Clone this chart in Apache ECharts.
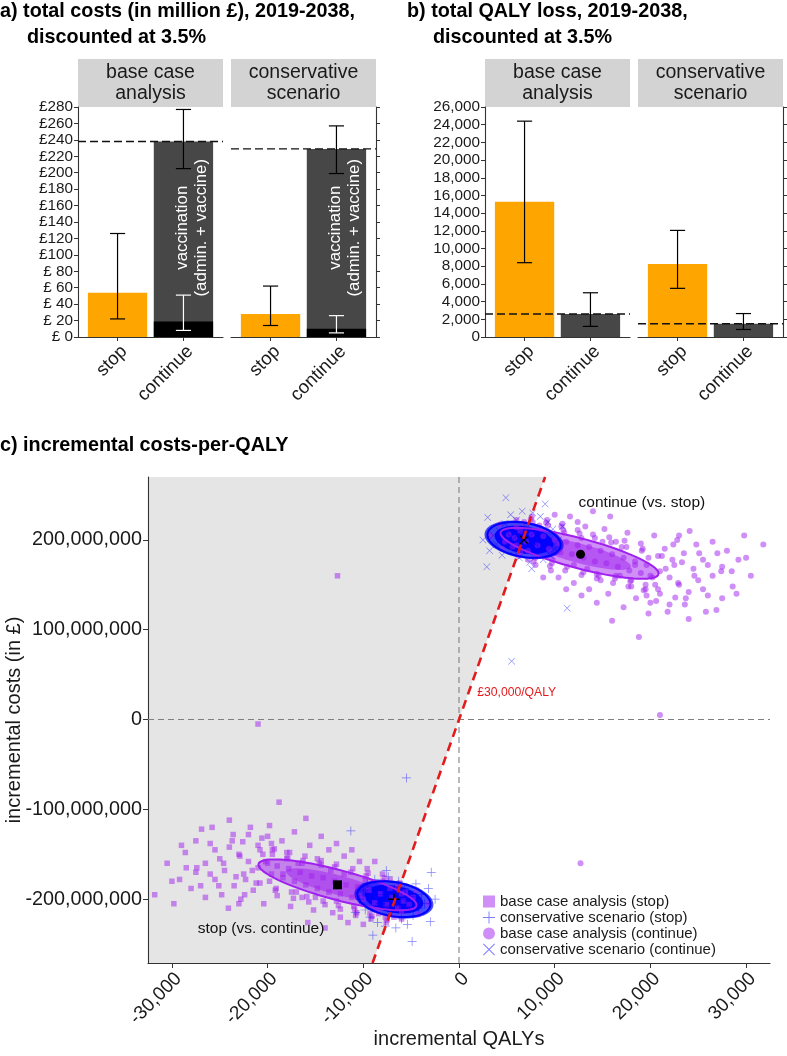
<!DOCTYPE html>
<html><head><meta charset="utf-8">
<script src="https://cdn.jsdelivr.net/npm/echarts@6/dist/echarts.min.js"></script>
<style>html,body{margin:0;padding:0;background:#fff}#c{width:787px;height:1056px}</style>
</head><body><div id="c"></div>
<script>
// ---------------- data ----------------
const categories = ['stop', 'continue'];
const facets = ['base case\nanalysis', 'conservative\nscenario'];
const costTicksMax = 280, costTickStep = 20;
const qalyTicksMax = 26000, qalyTickStep = 2000;
// panel a: total costs (million £) [facet][stop, continue]
const costMean = [[54, 238], [28, 229]];
const costLow  = [[22, 205], [14, 199]];
const costHigh = [[126, 277], [62, 257]];
// non-vaccination part of the "continue" bar
const costOther     = [19, 10];
const costOtherLow  = [8, 5];
const costOtherHigh = [51, 26];
const costRef = [238, 229];
const vaccLabel = 'vaccination\n(admin. + vaccine)';
const vaccLabelPos = [2.13, 133];
// panel b: total QALY loss
const qalyMean = [[15300, 2600], [8250, 1500]];
const qalyLow  = [[8400, 1200], [5500, 850]];
const qalyHigh = [[24400, 5000], [12050, 2650]];
const qalyRef = [2600, 1500];
// panel c: incremental QALYs vs incremental costs (£ million)
const wtpPerQaly = 30000;
const qalyRange = [-32500, 32500];
const costRangeM = [-271, 270];
const xTickVals = [-30000, -20000, -10000, 0, 10000, 20000, 30000];
const yTickVals = [-200, -100, 0, 100, 200];
const baseStop = [
[-31800,-195],[-30500,-160],[-29800,-205],[-29200,-178],[-28600,-148],[-28000,-188],[-27400,-165],[-26900,-122],[-26500,-198],[-26000,-172],
[-25500,-145],[-25100,-185],[-24600,-160],[-24100,-210],[-23700,-135],[-23300,-175],[-22900,-152],[-22400,-195],[-22000,-128],[-21600,-168],
[-21200,-182],[-20800,-145],[-20400,-205],[-20000,-160],[-19600,-138],[-19200,-190],[-18800,-92],[-18400,-172],[-18000,-148],[-17600,-208],
[-17200,-125],[-16800,-160],[-16400,-198],[-16000,-110],[-15600,-140],[-15200,-212],[-14800,-155],[-14400,-130],[-14000,-232],[-13600,-145],
[-13200,-215],[-12800,-138],[-12400,-220],[-12000,-152],[-11600,-226],[-11200,-145],[-10800,-218],[-10400,-158],[-10000,-228],[-9600,-166],
[-9200,-222],[-8800,-158],[-8400,-216],[-8000,-172],[-7600,-226],[-7200,-178],[-6800,-220],[-6400,-186],[-6000,-214],[-5600,-192],
[-5200,-206],[-4800,-198],[-24000,-112],[-27500,-135],[-21000,-5],[-12700,160],[-19800,-118],[-15800,-226],[-23000,-205],[-29000,-140],
[-20200,-158],[-19600,-172],[-19000,-163],[-18400,-176],[-17800,-166],[-17200,-180],[-16600,-170],[-16000,-184],[-15400,-174],[-14800,-188],
[-14200,-176],[-13600,-192],[-13000,-180],[-12400,-194],[-11800,-184],[-11200,-198],[-10600,-186],[-10000,-200],[-9400,-190],[-8800,-204],
[-8200,-194],[-7600,-206],[-7000,-198],[-6400,-210],[-5800,-202],[-19800,-180],[-18000,-155],[-16400,-160],[-15000,-198],[-13400,-168],
[-12000,-172],[-11000,-208],[-9800,-178],[-8600,-212],[-7200,-188],[-17000,-192],[-14400,-162],[-12800,-202],[-10400,-196],[-6000,-194],
[-22600,-136],[-22300,-178],[-21000,-140],[-20800,-182],[-20600,-132],[-19300,-144],[-19100,-188],[-19500,-150],[-19000,-196],[-17700,-148],
[-17500,-192],[-17900,-154],[-17300,-199],[-16100,-152],[-15900,-197],[-16300,-157],[-15700,-203],[-14400,-157],[-14200,-202],[-14600,-160],
[-14000,-206],[-12800,-161],[-12600,-207],[-13000,-164],[-12400,-211],[-11100,-166],[-10900,-211],[-11300,-170],[-10700,-215],[-9500,-171],
[-9300,-216],[-9700,-174],[-9100,-219],[-7800,-176],[-7700,-220],[-8000,-180],[-7500,-223],[-6200,-182],[-6000,-222],[-4500,-190],
[-4300,-217],[-3300,-205],[-21500,-190],[-22500,-172],[-23500,-185],[-24500,-168],[-25500,-178],[-26500,-160],[-27500,-170],[-22000,-158],
[-23000,-150],[-24000,-142],[-25000,-155],[-26000,-138],[-21000,-165],[-20500,-150],[-19500,-145],[-27000,-185],[-28500,-165],[-30000,-180],
[-24800,-195],[-22800,-200],[-20000,-130],[-21800,-120],[-23600,-128],[-25800,-120],[-18500,-135]
];
const baseCont = [
[31800,195],[30500,160],[29800,205],[29200,178],[28600,148],[28000,188],[27400,165],[26900,122],[26500,198],[26000,172],
[25500,145],[25100,185],[24600,160],[24100,210],[23700,135],[23300,175],[22900,152],[22400,195],[22000,128],[21600,168],
[21200,182],[20800,145],[20400,205],[20000,160],[19600,138],[19200,190],[18800,92],[18400,172],[18000,148],[17600,208],
[17200,125],[16800,160],[16400,198],[16000,110],[15600,140],[15200,212],[14800,155],[14400,130],[14000,232],[13600,145],
[13200,215],[12800,138],[12400,220],[12000,152],[11600,226],[11200,145],[10800,218],[10400,158],[10000,228],[9600,166],
[9200,222],[8800,158],[8400,216],[8000,172],[7600,226],[7200,178],[6800,220],[6400,186],[6000,214],[5600,192],
[5200,206],[4800,198],[24000,112],[27500,135],[21000,5],[12700,-160],[19800,118],[15800,226],[23000,205],[29000,140],
[20200,158],[19600,172],[19000,163],[18400,176],[17800,166],[17200,180],[16600,170],[16000,184],[15400,174],[14800,188],
[14200,176],[13600,192],[13000,180],[12400,194],[11800,184],[11200,198],[10600,186],[10000,200],[9400,190],[8800,204],
[8200,194],[7600,206],[7000,198],[6400,210],[5800,202],[19800,180],[18000,155],[16400,160],[15000,198],[13400,168],
[12000,172],[11000,208],[9800,178],[8600,212],[7200,188],[17000,192],[14400,162],[12800,202],[10400,196],[6000,194],
[22600,136],[22300,178],[21000,140],[20800,182],[20600,132],[19300,144],[19100,188],[19500,150],[19000,196],[17700,148],
[17500,192],[17900,154],[17300,199],[16100,152],[15900,197],[16300,157],[15700,203],[14400,157],[14200,202],[14600,160],
[14000,206],[12800,161],[12600,207],[13000,164],[12400,211],[11100,166],[10900,211],[11300,170],[10700,215],[9500,171],
[9300,216],[9700,174],[9100,219],[7800,176],[7700,220],[8000,180],[7500,223],[6200,182],[6000,222],[4500,190],
[4300,217],[3300,205],[21500,190],[22500,172],[23500,185],[24500,168],[25500,178],[26500,160],[27500,170],[22000,158],
[23000,150],[24000,142],[25000,155],[26000,138],[21000,165],[20500,150],[19500,145],[27000,185],[28500,165],[30000,180],
[24800,195],[22800,200],[20000,130],[21800,120],[23600,128],[25800,120],[18500,135]
];
const consStop = [
[-10400,-200],[-10000,-190],[-9800,-212],[-9600,-182],[-9300,-220],[-9000,-196],[-8800,-178],[-8500,-226],[-8200,-205],[-8000,-186],
[-7700,-230],[-7400,-175],[-7100,-214],[-6900,-192],[-6600,-232],[-6300,-180],[-6000,-222],[-5700,-188],[-5400,-228],[-5100,-197],
[-4800,-218],[-4500,-183],[-4200,-210],[-3900,-195],[-3600,-205],[-3200,-188],[-2900,-170],[-2500,-200],[-4900,-247],[-5500,-65],
[-11300,-124],[-9000,-240],[-3000,-225],[-7600,-168],[-10800,-215],[-8500,-198],[-7800,-208],[-7200,-194],[-6800,-202],[-6200,-206],
[-5600,-200],[-5000,-208],[-8000,-195],[-7000,-212],[-6000,-192]
];
const consCont = [
[10400,200],[10000,190],[9800,212],[9600,182],[9300,220],[9000,196],[8800,178],[8500,226],[8200,205],[8000,186],
[7700,230],[7400,175],[7100,214],[6900,192],[6600,232],[6300,180],[6000,222],[5700,188],[5400,228],[5100,197],
[4800,218],[4500,183],[4200,210],[3900,195],[3600,205],[3200,188],[2900,170],[2500,200],[4900,247],[5500,65],
[11300,124],[9000,240],[3000,225],[7600,168],[10800,215],[8500,198],[7800,208],[7200,194],[6800,202],[6200,206],
[5600,200],[5000,208],[8000,195],[7000,212],[6000,192]
];
// means [q, cost]
const meanBaseStop = [-12700, -184];
const meanConsStop = [-6800, -200];
const meanBaseCont = [12700, 184];
const meanConsCont = [6800, 200];
// ellipses: centre q, centre cost, major (dq, dc), minor (dq, dc)
const ellBaseStop = [-12700, -184, 8250, -23.3, -410, -16.1];
const ellBaseCont = [12600, 185, 8250, -23.3, -410, -16.1];
const ellConsStop = [-6800, -200, 3810, -7.1, -310, -18.6];
const ellConsCont = [6800, 200, 3810, -7.1, -310, -18.6];
const seriesNames = ['base case analysis (stop)', 'conservative scenario (stop)', 'base case analysis (continue)', 'conservative scenario (continue)'];

// ---------------- styling ----------------
const FONT = "'Liberation Sans', Arial, Helvetica, sans-serif";
const AX = '#333333';
const TXT = '#1a1a1a';
const ORANGE = '#FFA500', DARK = '#474747', BLACK = '#000000';
const PURPLE = '#A020F0', BLUE = '#0000FF';
const barFill = [ORANGE, DARK, BLACK];
const PLUS = 'path://M9.2,0H10.8V9.2H20V10.8H10.8V20H9.2V10.8H0V9.2H9.2Z';
const CROSS = 'path://M1.2,0L10,8.8L18.8,0L20,1.2L11.2,10L20,18.8L18.8,20L10,11.2L1.2,20L0,18.8L8.8,10L0,1.2Z';
const PLUS_B = 'path://M8.5,0H11.5V8.5H20V11.5H11.5V20H8.5V11.5H0V8.5H8.5Z';
const CROSS_B = 'path://M2,0L10,8L18,0L20,2L12,10L20,18L18,20L10,12L2,20L0,18L8,10L0,2Z';

const barGrids = [
  {left: 78, top: 107, width: 145, height: 230, outerBoundsMode: 'none', containLabel: false},
  {left: 231, top: 107, width: 145, height: 230, outerBoundsMode: 'none', containLabel: false},
  {left: 485, top: 107, width: 145, height: 230, outerBoundsMode: 'none', containLabel: false},
  {left: 638, top: 107, width: 145, height: 230, outerBoundsMode: 'none', containLabel: false}
];
const scatterGrid = {left: 148, top: 477, width: 622, height: 486, outerBoundsMode: 'none', containLabel: false};

function barX(gi) {
  return {type: 'value', gridIndex: gi, min: 0.4, max: 2.6,
    axisLine: {show: true, lineStyle: {color: AX, width: 1.1}},
    axisTick: {show: true, customValues: [1, 2], length: 4, lineStyle: {color: AX}},
    axisLabel: {show: true, customValues: [1, 2], rotate: 45, fontSize: 18.5, color: TXT, fontFamily: FONT, margin: 5,
      verticalAlign: 'top', formatter: v => categories[Math.round(v) - 1]},
    splitLine: {show: false}};
}
function barY(gi, max, step, side, fmt) {
  return {type: 'value', gridIndex: gi, min: 0, max: max, interval: step, position: side,
    axisLine: {show: true, lineStyle: {color: AX, width: 1.1}},
    axisTick: {show: true, length: 4, lineStyle: {color: AX}},
    axisLabel: {show: side === 'left', fontSize: 15.3, color: TXT, fontFamily: FONT, margin: 5, formatter: fmt},
    splitLine: {show: false}};
}
const costFmt = v => '£' + (v < 100 ? ' ' : '') + v;
const qalyFmt = v => v.toLocaleString('en-US');

function barRender(params, api) {
  const x = api.value(0), y = api.value(1), ci = api.value(2);
  const p0 = api.coord([x - 0.45, y]);
  const p1 = api.coord([x + 0.45, 0]);
  return {type: 'rect', shape: {x: p0[0], y: p0[1], width: p1[0] - p0[0], height: p1[1] - p0[1]}, style: {fill: barFill[ci]}};
}
function errRender(params, api) {
  const x = api.value(0), lo = api.value(1), hi = api.value(2), col = api.value(3) ? '#ffffff' : '#000000';
  const a = api.coord([x, lo]), b = api.coord([x, hi]);
  const w = api.size([0.115, 0])[0];
  const st = {stroke: col, lineWidth: 1.2};
  return {type: 'group', children: [
    {type: 'line', shape: {x1: a[0], y1: a[1], x2: b[0], y2: b[1]}, style: st},
    {type: 'line', shape: {x1: a[0] - w, y1: a[1], x2: a[0] + w, y2: a[1]}, style: st},
    {type: 'line', shape: {x1: b[0] - w, y1: b[1], x2: b[0] + w, y2: b[1]}, style: st}
  ]};
}
function vertTextRender(params, api) {
  const p = api.coord([api.value(0), api.value(1)]);
  return {type: 'text', x: p[0], y: p[1], rotation: Math.PI / 2,
    style: {text: vaccLabel, fill: '#ffffff', font: '16.8px ' + FONT, align: 'center', verticalAlign: 'middle', lineHeight: 19}};
}

const series = [];
function addBarFacet(gi, mean, low, high, ref, extra) {
  series.push({type: 'custom', xAxisIndex: gi, yAxisIndex: gi, renderItem: barRender, silent: true,
    data: [[1, mean[0], 0], [2, mean[1], 1]].concat(extra ? [[2, extra.val, 2]] : [])});
  series.push({type: 'custom', xAxisIndex: gi, yAxisIndex: gi, renderItem: errRender, silent: true,
    data: [[1, low[0], high[0], 0], [2, low[1], high[1], 0]].concat(extra ? [[2, extra.lo, extra.hi, 1]] : [])});
  series.push({type: 'line', xAxisIndex: gi, yAxisIndex: gi, symbol: 'none', silent: true,
    lineStyle: {color: '#111', width: 1.4, type: [8, 4]}, data: [[0.4, ref], [2.6, ref]]});
  if (extra) series.push({type: 'custom', xAxisIndex: gi, yAxisIndex: gi, renderItem: vertTextRender, silent: true, data: [vaccLabelPos]});
}
for (let f = 0; f < 2; f++) {
  addBarFacet(f, costMean[f], costLow[f], costHigh[f], costRef[f], {val: costOther[f], lo: costOtherLow[f], hi: costOtherHigh[f]});
  addBarFacet(2 + f, qalyMean[f], qalyLow[f], qalyHigh[f], qalyRef[f], null);
}

// ---- panel c ----
const G = 4;
const slope = wtpPerQaly / 1e6;
series.push({type: 'custom', xAxisIndex: G, yAxisIndex: G, silent: true, z: 0, data: [[0, 0]],
  renderItem: (p, api) => {
    const pts = [[qalyRange[0], costRangeM[1]], [costRangeM[1] / slope, costRangeM[1]], [costRangeM[0] / slope, costRangeM[0]], [qalyRange[0], costRangeM[0]]].map(d => api.coord(d));
    return {type: 'polygon', shape: {points: pts}, style: {fill: '#e5e5e5'}};
  }});
series.push({type: 'line', xAxisIndex: G, yAxisIndex: G, symbol: 'none', silent: true, z: 1,
  lineStyle: {color: '#808080', width: 1.1, type: [6, 4]}, data: [[qalyRange[0], 0], [qalyRange[1], 0]]});
series.push({type: 'line', xAxisIndex: G, yAxisIndex: G, symbol: 'none', silent: true, z: 1,
  lineStyle: {color: '#808080', width: 1.1, type: [6, 4]}, data: [[0, costRangeM[0]], [0, costRangeM[1]]]});

function ellPts(api, s) {
  const e = [0, 1, 2, 3, 4, 5].map(i => api.value(i));
  const pts = [];
  for (let i = 0; i <= 90; i++) {
    const t = i / 90 * 2 * Math.PI, c = Math.cos(t) * s, sn = Math.sin(t) * s;
    pts.push(api.coord([e[0] + c * e[2] + sn * e[4], e[1] + c * e[3] + sn * e[5]]));
  }
  return pts;
}
function coreSeries(data, fills) {
  return {type: 'custom', xAxisIndex: G, yAxisIndex: G, silent: true, z: 2, data: data,
    renderItem: (p, api) => ({type: 'group', children: fills.map(f => ({type: 'polygon', shape: {points: ellPts(api, f[0])}, style: {fill: f[1]}}))})};
}
function ellSeries(data, color) {
  return {type: 'custom', xAxisIndex: G, yAxisIndex: G, silent: true, z: 4, data: data,
    renderItem: (p, api) => ({type: 'polyline', shape: {points: ellPts(api, 1)}, style: {stroke: color, lineWidth: 2, fill: null}})};
}
series.push(coreSeries([ellBaseStop, ellBaseCont], [[1.0, 'rgba(160,32,240,0.5)'], [0.65, 'rgba(160,32,240,0.5)']]));
series.push({name: seriesNames[0], type: 'scatter', xAxisIndex: G, yAxisIndex: G, z: 3, symbol: 'rect', symbolSize: 5.5,
  itemStyle: {color: PURPLE, opacity: 0.5}, data: baseStop});
series.push({name: seriesNames[2], type: 'scatter', xAxisIndex: G, yAxisIndex: G, z: 3, symbol: 'circle', symbolSize: 6,
  itemStyle: {color: PURPLE, opacity: 0.5}, data: baseCont});
series.push(coreSeries([ellConsStop, ellConsCont], [[1.08, 'rgba(0,0,255,0.7)'], [0.8, 'rgba(0,0,255,0.95)']]));
series.push({name: seriesNames[1], type: 'scatter', xAxisIndex: G, yAxisIndex: G, z: 3, symbol: PLUS, symbolSize: 9,
  itemStyle: {color: BLUE, opacity: 0.5}, data: consStop});
series.push({name: seriesNames[3], type: 'scatter', xAxisIndex: G, yAxisIndex: G, z: 3, symbol: CROSS, symbolSize: 7,
  itemStyle: {color: BLUE, opacity: 0.5}, data: consCont});
series.push(ellSeries([ellBaseStop, ellBaseCont], PURPLE));
series.push(ellSeries([ellConsStop, ellConsCont], BLUE));
[[meanBaseStop, 'rect', 9], [meanConsStop, PLUS_B, 11], [meanBaseCont, 'circle', 9], [meanConsCont, CROSS_B, 9]].forEach(m => {
  series.push({type: 'scatter', xAxisIndex: G, yAxisIndex: G, z: 5, silent: true, symbol: m[1], symbolSize: m[2],
    itemStyle: {color: '#000', opacity: 1}, data: [m[0]]});
});
series.push({type: 'line', xAxisIndex: G, yAxisIndex: G, symbol: 'none', silent: true, z: 6,
  lineStyle: {color: '#E41A1C', width: 2.6, type: [9, 6]},
  data: [[costRangeM[0] / slope, costRangeM[0]], [costRangeM[1] / slope, costRangeM[1]]]});
const annotations = [
  {pos: [1900, 30], text: '£30,000/QALY', color: '#E41A1C', size: 12.2},
  {pos: [12500, 241], text: 'continue (vs. stop)', color: '#111', size: 15.5},
  {pos: [-27300, -233], text: 'stop (vs. continue)', color: '#111', size: 15.5}
];
series.push({type: 'custom', xAxisIndex: G, yAxisIndex: G, silent: true, z: 7, data: annotations.map(a => a.pos),
  renderItem: (p, api) => {
    const a = annotations[p.dataIndex];
    const c = api.coord([api.value(0), api.value(1)]);
    return {type: 'text', x: c[0], y: c[1], style: {text: a.text, fill: a.color, font: a.size + 'px ' + FONT, align: 'left', verticalAlign: 'middle'}};
  }});

// ---------------- options ----------------
const xAxes = [barX(0), barX(1), barX(2), barX(3), {
  type: 'value', gridIndex: G, min: qalyRange[0], max: qalyRange[1],
  name: 'incremental QALYs', nameLocation: 'middle', nameGap: 66, nameMoveOverlap: false,
  nameTextStyle: {fontSize: 20, color: TXT, fontFamily: FONT},
  axisLine: {show: true, onZero: false, lineStyle: {color: AX, width: 1.1}},
  axisTick: {show: true, customValues: xTickVals, length: 5, lineStyle: {color: AX}},
  axisLabel: {customValues: xTickVals, rotate: 45, fontSize: 19, color: TXT, fontFamily: FONT, margin: 6, verticalAlign: 'top',
    formatter: v => v.toLocaleString('en-US')},
  splitLine: {show: false}}];
const yAxes = [barY(0, costTicksMax, costTickStep, 'left', costFmt), barY(1, costTicksMax, costTickStep, 'right', costFmt),
  barY(2, qalyTicksMax, qalyTickStep, 'left', qalyFmt), barY(3, qalyTicksMax, qalyTickStep, 'right', qalyFmt), {
  type: 'value', gridIndex: G, min: costRangeM[0], max: costRangeM[1],
  name: 'incremental costs (in £)', nameLocation: 'middle', nameGap: 124, nameMoveOverlap: false,
  nameTextStyle: {fontSize: 20, color: TXT, fontFamily: FONT},
  axisLine: {show: true, onZero: false, lineStyle: {color: AX, width: 1.1}},
  axisTick: {show: true, customValues: yTickVals, length: 5, lineStyle: {color: AX}},
  axisLabel: {customValues: yTickVals, fontSize: 19.8, color: TXT, fontFamily: FONT, margin: 6, formatter: v => (v * 1e6).toLocaleString('en-US')},
  splitLine: {show: false}}];

const graphics = [];
barGrids.forEach((g, i) => {
  graphics.push({type: 'rect', shape: {x: g.left, y: 59, width: g.width, height: 48}, style: {fill: '#d3d3d3'}, silent: true});
  graphics.push({type: 'text', x: g.left + g.width / 2, y: 83, silent: true,
    style: {text: facets[i % 2], font: '19.5px ' + FONT, fill: TXT, align: 'center', verticalAlign: 'middle', lineHeight: 21}});
});
const titles = [
  ['a) total costs (in million £), 2019-2038,', 0, 12], ['discounted at 3.5%', 27, 38],
  ['b) total QALY loss, 2019-2038,', 407, 12], ['discounted at 3.5%', 433, 38],
  ['c) incremental costs-per-QALY', 0, 446]
];
titles.forEach(t => graphics.push({type: 'text', x: t[1], y: t[2], silent: true,
  style: {text: t[0], font: 'bold 19.8px ' + FONT, fill: '#000', align: 'left', verticalAlign: 'middle'}}));

const chart = echarts.init(document.getElementById('c'), null, {renderer: 'canvas'});
chart.setOption({
  animation: false,
  backgroundColor: '#ffffff',
  textStyle: {fontFamily: FONT},
  grid: barGrids.concat([scatterGrid]),
  xAxis: xAxes,
  yAxis: yAxes,
  legend: {data: [seriesNames[0], seriesNames[1], seriesNames[2], seriesNames[3]], orient: 'vertical', left: 478, top: 889,
    itemWidth: 12, itemHeight: 12, itemGap: 1, textStyle: {fontSize: 15, color: TXT, fontFamily: FONT}, selectedMode: false},
  graphic: graphics,
  series: series
});
</script></body></html>
